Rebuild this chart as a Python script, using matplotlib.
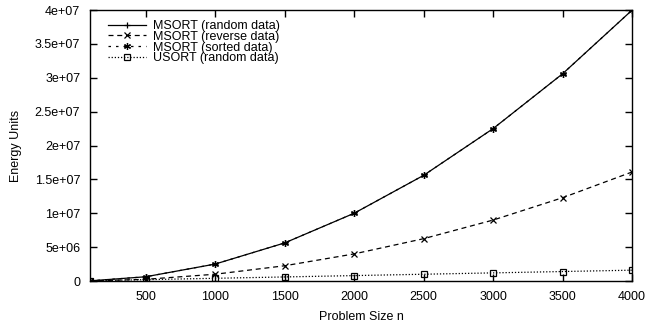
import matplotlib
matplotlib.use("Agg")
import matplotlib.pyplot as plt
from matplotlib.ticker import MultipleLocator

plt.rcParams["font.family"] = ["Liberation Sans", "DejaVu Sans"]
plt.rcParams["font.size"] = 9

# problem sizes
n = [100, 500, 1000, 1500, 2000, 2500, 3000, 3500, 4000]

# energy units
msort_random = [2.5e4, 6.25e5, 2.5e6, 5.62e6, 1.0e7, 1.56e7, 2.25e7, 3.06e7, 4.0e7]
msort_reverse = [1.0e4, 2.5e5, 1.0e6, 2.25e6, 4.0e6, 6.25e6, 9.0e6, 1.23e7, 1.61e7]
msort_sorted = [2.5e4, 6.25e5, 2.5e6, 5.62e6, 1.0e7, 1.56e7, 2.25e7, 3.06e7, 4.0e7]
usort_random = [4.0e4, 2.0e5, 4.0e5, 6.0e5, 8.0e5, 1.0e6, 1.2e6, 1.4e6, 1.6e6]

fig = plt.figure(figsize=(6.45, 3.26), dpi=100)
ax = fig.add_axes([0.1395, 0.138, 0.8405, 0.831])

args = dict(color="k", lw=0.9, ms=5, mew=0.9)
ax.plot(n, msort_random, "-", marker="+", label="MSORT (random data)", **args)
ax.plot(n, msort_reverse, linestyle=(0, (4, 3)), marker="x", ms=4,
        color="k", lw=0.9, mew=0.9, label="MSORT (reverse data)")
ax.plot(n, msort_sorted, linestyle=(0, (2, 4)), marker=(6, 2, 0),
        label="MSORT (sorted data)", **args)
ax.plot(n, usort_random, linestyle=(0, (1, 1.5)), marker="s", ms=4,
        mfc="none", mec="k", color="k", lw=0.9, mew=0.9,
        label="USORT (random data)")

ax.set_xlim(100, 4000)
ax.set_ylim(0, 4e7)
ax.set_xticks([500, 1000, 1500, 2000, 2500, 3000, 3500, 4000])
ax.yaxis.set_major_locator(MultipleLocator(5e6))
ax.yaxis.set_major_formatter(
    plt.FuncFormatter(lambda v, _: "0" if v == 0 else "{:g}".format(v)))
ax.tick_params(direction="in", top=True, right=True, length=5, width=1, pad=7)
for s in ax.spines.values():
    s.set_linewidth(1)

ax.set_xlabel("Problem Size n", labelpad=6)
ax.set_ylabel("Energy Units", labelpad=9)

ax.legend(loc="upper left", frameon=False, handlelength=3.0, labelspacing=-0.1,
          borderaxespad=0.4, handletextpad=0.6, bbox_to_anchor=(0.015, 1.0))

fig.savefig("out.png", dpi=100)
